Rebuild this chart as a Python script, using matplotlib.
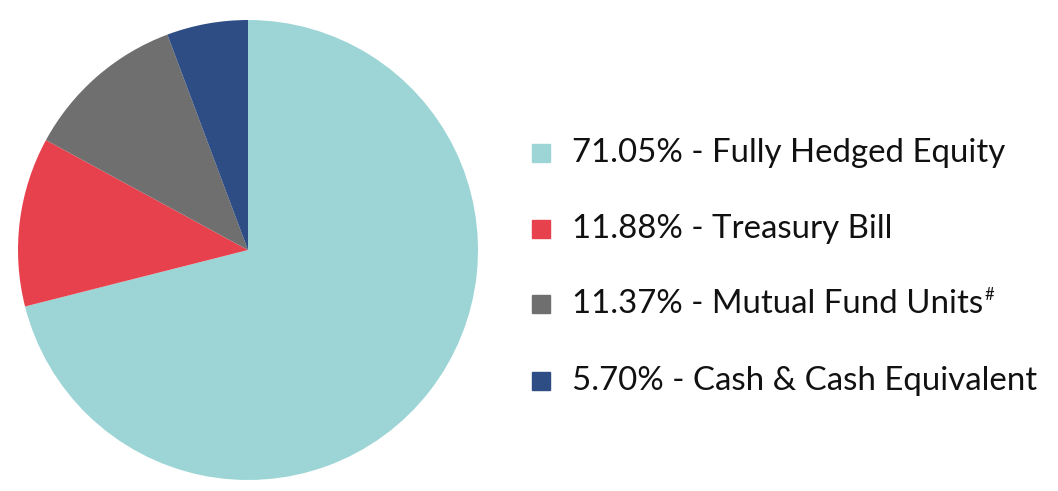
import matplotlib.pyplot as plt
from matplotlib.patches import Rectangle

labels = ['Fully Hedged Equity', 'Treasury Bill', 'Mutual Fund Units', 'Cash & Cash Equivalent']
values = [71.05, 11.88, 11.37, 5.70]
colors = ['#9DD5D6', '#E8414E', '#6F6F6F', '#2E4D84']
notes = ['', '', '#', '']

W, H = 1058, 491
fig = plt.figure(figsize=(W / 100, H / 100), dpi=100)

# pie axes: centre (248, 250) px, radius 230 px
ax = fig.add_axes([18 / W, (H - 480) / H, 460 / W, 460 / H])
ax.pie(values, colors=colors, startangle=90, counterclock=False,
       wedgeprops=dict(linewidth=0))
ax.set_xlim(-1, 1)
ax.set_ylim(-1, 1)
ax.set_aspect('equal')
ax.axis('off')

# legend drawn by hand
row_y = [153, 229, 304, 381]
fig.canvas.draw()
renderer = fig.canvas.get_renderer()
for lab, val, col, note, y in zip(labels, values, colors, notes, row_y):
    fig.patches.append(Rectangle((532 / W, (H - y - 9) / H), 18 / W, 18 / H,
                                 transform=fig.transFigure, color=col))
    t = fig.text(572 / W, (H - y) / H, f'{val:.2f}% - {lab}', fontsize=23.8,
                 family='Lato', va='center', ha='left', color='#111111')
    if note:
        bb = t.get_window_extent(renderer)
        fig.text((bb.x1 + 1) / W, (H - y + 9) / H, note, fontsize=12,
                 family='Lato', va='center', ha='left', color='#111111')

fig.savefig('out.png', dpi=100)
